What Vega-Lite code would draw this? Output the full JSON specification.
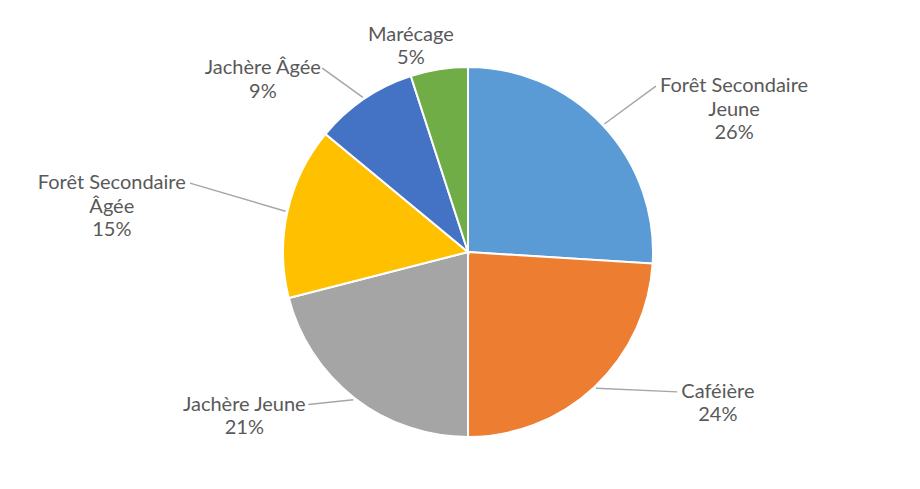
{
  "$schema": "https://vega.github.io/schema/vega-lite/v6.json",
  "width": 920,
  "height": 489,
  "autosize": {"type": "fit", "contains": "padding"},
  "padding": {"left": 16, "top": 15, "right": 0, "bottom": 0},
  "background": "white",
  "config": {"view": {"stroke": null}},
  "data": {
    "values": [
      {"categorie": "Forêt Secondaire Jeune", "texte": "Forêt Secondaire\nJeune", "pourcentage": 26},
      {"categorie": "Caféière", "texte": "Caféière", "pourcentage": 24},
      {"categorie": "Jachère Jeune", "texte": "Jachère Jeune", "pourcentage": 21},
      {"categorie": "Forêt Secondaire Âgée", "texte": "Forêt Secondaire\nÂgée", "pourcentage": 15},
      {"categorie": "Jachère Âgée", "texte": "Jachère Âgée", "pourcentage": 9},
      {"categorie": "Marécage", "texte": "Marécage", "pourcentage": 5}
    ]
  },
  "transform": [
    {"stack": "pourcentage", "groupby": [], "sort": [{"field": "pourcentage", "order": "descending"}], "as": ["debut", "fin"]},
    {"calculate": "(datum.debut + datum.fin) / 2", "as": "milieu"},
    {"calculate": "datum.texte + '\\n' + datum.pourcentage + '%'", "as": "etiquette"}
  ],
  "layer": [
    {
      "mark": {"type": "arc", "radius": 185, "stroke": "white", "strokeWidth": 2},
      "encoding": {
        "theta": {"field": "debut", "type": "quantitative", "stack": null, "scale": {"domain": [0, 100], "range": [0, 6.283185307179586]}},
        "theta2": {"field": "fin"},
        "color": {
          "field": "categorie",
          "type": "nominal",
          "legend": null,
          "scale": {
            "domain": ["Forêt Secondaire Jeune", "Caféière", "Jachère Jeune", "Forêt Secondaire Âgée", "Jachère Âgée", "Marécage"],
            "range": ["#5B9BD5", "#ED7D31", "#A5A5A5", "#FFC000", "#4472C4", "#70AD47"]
          }
        }
      }
    },
    {
      "mark": {"type": "rule", "color": "#A6A6A6", "strokeWidth": 1.5},
      "encoding": {
        "x": {"value": {"expr": "width/2 + 187*sin(2*PI*datum.milieu/100)"}},
        "y": {"value": {"expr": "height/2 - 187*cos(2*PI*datum.milieu/100)"}},
        "x2": {"value": {"expr": "abs(sin(2*PI*datum.milieu/100)) < 0.35 ? width/2 + 187*sin(2*PI*datum.milieu/100) : width/2 + 365*sin(2*PI*datum.milieu/100) - (sin(2*PI*datum.milieu/100) > 0 ? 1 : -1)*(4.7*length(split(datum.etiquette, '\\n')[0]) + 3)"}},
        "y2": {"value": {"expr": "abs(sin(2*PI*datum.milieu/100)) < 0.35 ? height/2 - 187*cos(2*PI*datum.milieu/100) : height/2 - 208*cos(2*PI*datum.milieu/100) - (length(split(datum.etiquette, '\\n')) - 1)*23.5/2"}},
        "detail": {"field": "categorie", "type": "nominal"}
      }
    },
    {
      "mark": {
        "type": "text",
        "font": "Lato",
        "fontSize": 20,
        "lineHeight": 23.5,
        "lineBreak": "\n",
        "color": "#595959",
        "baseline": "middle",
        "align": "center",
        "radius": 208,
        "dx": {"expr": "157*sin(2*PI*datum.milieu/100)"},
        "dy": {"expr": "-(length(split(datum.etiquette, '\\n')) - 1)*23.5/2"}
      },
      "encoding": {
        "theta": {"field": "milieu", "type": "quantitative", "stack": null},
        "text": {"field": "etiquette"}
      }
    }
  ]
}
